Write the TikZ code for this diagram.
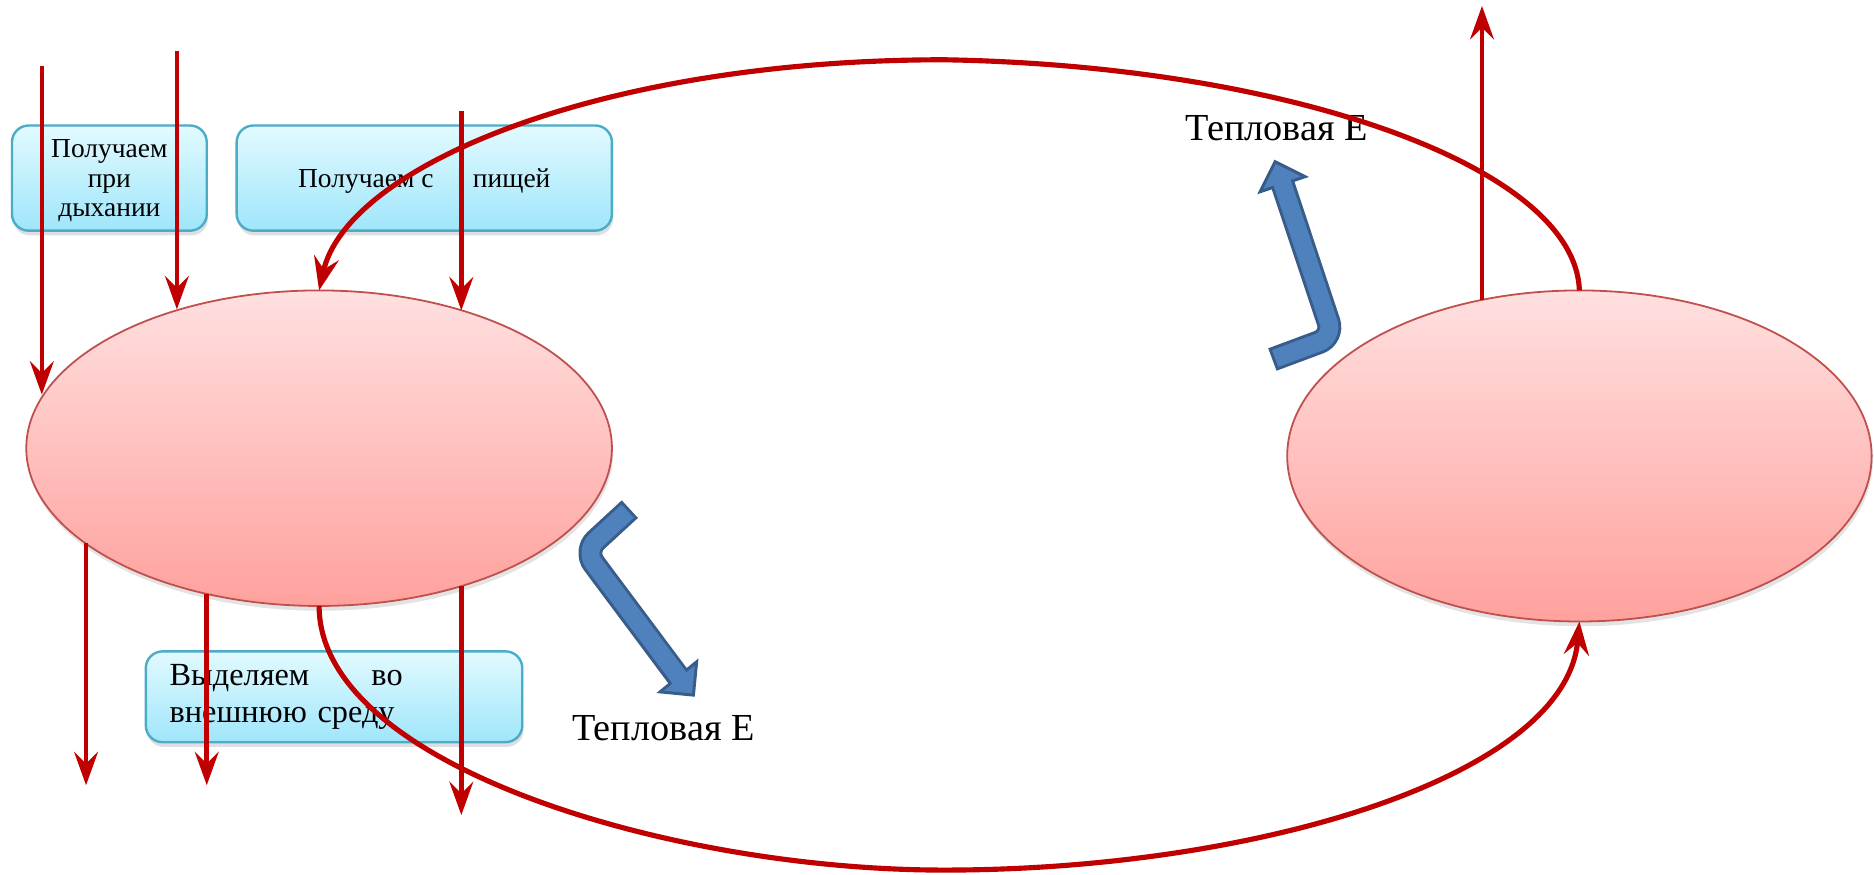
\documentclass[tikz,border=0pt]{standalone}
\usepackage{fontspec}
\setmainfont{Liberation Serif}
\usetikzlibrary{arrows.meta,shapes.geometric,shadows,calc}
\definecolor{redA}{HTML}{C00000}
\definecolor{ellTop}{HTML}{FFE0E0}
\definecolor{ellBot}{HTML}{FFA19D}
\definecolor{ellBorder}{HTML}{C0504D}
\definecolor{boxTop}{HTML}{E2FAFF}
\definecolor{boxBot}{HTML}{9FE6FB}
\definecolor{boxBorder}{HTML}{4BACC6}
\definecolor{blueF}{HTML}{4F81BD}
\definecolor{blueB}{HTML}{385D8A}
\begin{document}
\begin{tikzpicture}[x=1pt,y=-1pt,
  cell/.style={ellipse, draw=ellBorder, line width=1.5pt, top color=ellTop, bottom color=ellBot,
    inner sep=0pt, outer sep=0pt, drop shadow={opacity=0.22,shadow xshift=1pt,shadow yshift=-4pt}},
  infobox/.style={rectangle, rounded corners=14pt, draw=boxBorder, line width=2pt, top color=boxTop,
    bottom color=boxBot, inner sep=0pt, outer sep=0pt, drop shadow={opacity=0.25,shadow xshift=1pt,shadow yshift=-4pt}},
  boxfont/.style={font=\fontsize{23}{25}\selectfont},
  bigfont/.style={font=\fontsize{27}{31}\selectfont},
  heatfont/.style={font=\fontsize{32}{36}\selectfont},
  flow/.style={draw=redA, line width=3.8pt, -{Stealth[length=28pt,width=20pt,inset=10pt]}},
  flowc/.style={draw=redA, line width=4.3pt, -{Stealth[length=28pt,width=21pt,inset=10pt]}},
  shaftout/.style={draw=blueB, line width=20pt, rounded corners=13pt},
  shaftin/.style={draw=blueF, line width=15pt, rounded corners=13pt},
  headtri/.style={fill=blueF, draw=blueB, line width=2.5pt, line join=miter}
]
\useasboundingbox (0,0) rectangle (1568,732);

% ellipses
\node[cell, minimum width=490pt, minimum height=264pt] (L) at (267,375) {};
\node[cell, minimum width=489pt, minimum height=277pt] (R) at (1321.5,381.5) {};

% boxes
\node[infobox, boxfont, minimum width=163pt, minimum height=88pt, align=center, text depth=-4pt] (b1) at (91.5,149) {Получаем\\при\\дыхании};
\node[infobox, boxfont, minimum width=314pt, minimum height=88pt, align=center, text height=21pt] (b2) at (355,149) {Получаем с\hspace{33pt}пищей};
\node[infobox, bigfont, minimum height=76pt, text width=275pt, inner xsep=20pt, align=left] (b3) at (279.5,583) {Выделяем\hspace{52pt}во\\внешнюю среду};

% labels
\node[heatfont] (heatA) at (555,609) {Тепловая Е};
\node[heatfont] (heatB) at (1068,107) {Тепловая Е};

% free ends
\coordinate (s1) at (35,55);
\coordinate (s2) at (148,43);
\coordinate (s3) at (386,93);
\coordinate (e1) at (72,657);
\coordinate (e2) at (173,657);
\coordinate (e3) at (386,682);
\coordinate (u1) at (1240,5);
\coordinate (peak) at (790,50);
\coordinate (low) at (790,728);

% red connectors
\draw[flow] (s1) -- (s1 |- L.169.7);
\draw[flow] (s2) -- (s2 |- L.135.9);
\draw[flow] (s3) -- (s3 |- L.44.1);
\draw[flow] (e1 |- L.202.3) -- (e1);
\draw[flow] (e2 |- L.232.4) -- (e2);
\draw[flow] (e3 |- L.316) -- (e3);
\draw[flow] (u1 |- R.122) -- (u1);
\draw[flowc] (R.north) .. controls (1318,140) and (1080,55) .. (peak)
  .. controls (500,50) and (290,140) .. (L.north);
\draw[flowc] (L.south) .. controls (267,640) and (560,728) .. (low)
  .. controls (1050,728) and (1310,650) .. (R.south);

% blue bent arrows
\coordinate (t1) at (527,426);
\coordinate (k1) at (489,461);
\coordinate (h1) at (567.6,566.3);
\coordinate (p1) at (580.2,581.6);
\coordinate (w1a) at (582.9,553.7);
\coordinate (w1b) at (552.3,578.9);
\draw[shaftout] (t1) -- (k1) -- (h1);
\draw[headtri] (w1a) -- (p1) -- (w1b) -- cycle;
\draw[shaftin] ($(t1)!2.5pt!(k1)$) -- (k1) -- ($(h1)!3pt!(p1)$);

\coordinate (t2) at (1064.6,300.8);
\coordinate (k2) at (1115.7,281.8);
\coordinate (h2) at (1073.2,154.1);
\coordinate (p2) at (1066.9,135.3);
\coordinate (w2a) at (1092,147.8);
\coordinate (w2b) at (1054.4,160.4);
\draw[shaftout] (t2) -- (k2) -- (h2);
\draw[headtri] (w2a) -- (p2) -- (w2b) -- cycle;
\draw[shaftin] ($(t2)!2.5pt!(k2)$) -- (k2) -- ($(h2)!3pt!(p2)$);
\end{tikzpicture}
\end{document}
